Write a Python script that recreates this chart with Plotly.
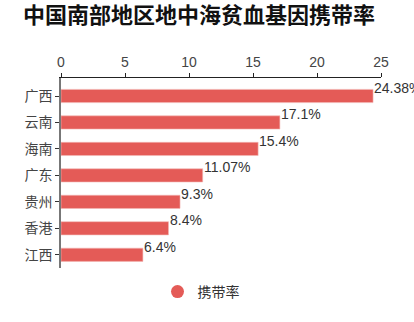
import plotly.graph_objects as go

categories = ["广西", "云南", "海南", "广东", "贵州", "香港", "江西"]
values = [24.38, 17.1, 15.4, 11.07, 9.3, 8.4, 6.4]
labels = ["24.38%", "17.1%", "15.4%", "11.07%", "9.3%", "8.4%", "6.4%"]
x_ticks = [0, 5, 10, 15, 20, 25]
series_name = "携带率"
title_text = "中国南部地区地中海贫血基因携带率"

FONT = "Liberation Sans, Noto Sans CJK SC"
TFONT = "Noto Sans CJK SC"
BAR = "#e45b57"

fig = go.Figure()
fig.add_trace(go.Bar(
    x=values, y=categories, orientation="h",
    marker=dict(color=BAR, line=dict(color="#f4b8b5", width=0.6)),
    width=0.5, showlegend=False, name=series_name,
))
fig.add_trace(go.Scatter(
    x=[None], y=[None], mode="markers", name=series_name,
    marker=dict(color=BAR, size=13, symbol="circle"), showlegend=True,
))

for c, v, t in zip(categories, values, labels):
    fig.add_annotation(x=v, y=c, text=t, showarrow=False, xanchor="left",
                       yanchor="middle", yshift=8, xshift=-1,
                       font=dict(family=FONT, size=14, color="#333"))

fig.update_layout(
    width=414, height=322,
    margin=dict(l=61, r=33, t=78, b=54),
    paper_bgcolor="white", plot_bgcolor="white",
    font=dict(family=FONT, size=14, color="#333"),
    title=dict(text="<b>" + title_text + "</b>", x=23/414, xanchor="left",
               y=1 - 15/322, yanchor="middle",
               font=dict(family=TFONT, size=22, color="#111")),
    bargap=0.5,
    legend=dict(orientation="h", x=0.4375, xanchor="center", xref="paper",
                y=-(292 - 268) / 190, yanchor="middle",
                font=dict(family=FONT, size=14, color="#333"),
                itemwidth=30),
    xaxis=dict(side="top", range=[0, 25], tickvals=x_ticks, showgrid=False,
               zeroline=False, showline=True, linecolor="#222", linewidth=1.2,
               ticks="outside", ticklen=4, tickcolor="#222",
               tickfont=dict(family=FONT, size=14, color="#444")),
    yaxis=dict(categoryorder="array", categoryarray=categories[::-1],
               showgrid=False, zeroline=False, showline=True,
               linecolor="#777", linewidth=1.5, ticks="outside", ticklen=4,
               tickcolor="#333",
               tickfont=dict(family=FONT, size=14, color="#444")),
)

fig.write_html("out.html")
